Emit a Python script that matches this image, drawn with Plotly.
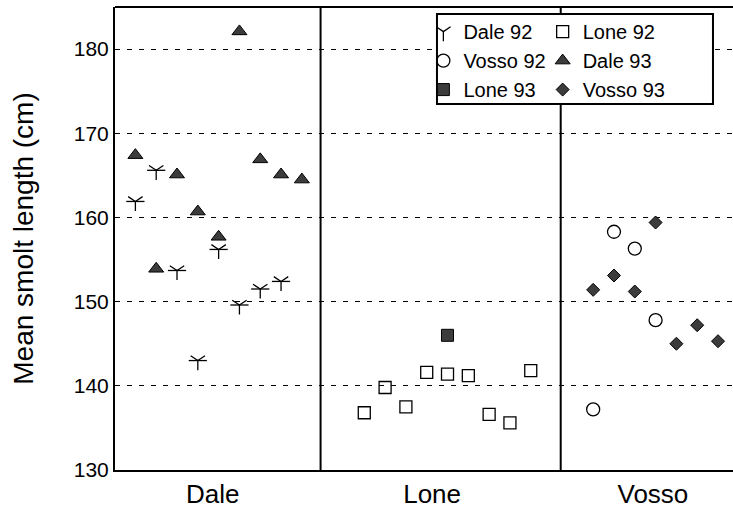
import plotly.graph_objects as go

# ---- data (x = sample index within plot, y = mean smolt length, cm) ----
dale92_x = [1, 2, 3, 4, 5, 6, 7, 8]
dale92_y = [161.9, 165.6, 153.7, 143.0, 156.2, 149.6, 151.5, 152.4]

dale93_x = [1, 2, 3, 4, 5, 6, 7, 8, 9]
dale93_y = [167.4, 153.9, 165.1, 160.7, 157.7, 182.1, 166.9, 165.1, 164.5]

lone92_x = [12, 13, 14, 15, 16, 17, 18, 19, 20]
lone92_y = [136.8, 139.8, 137.5, 141.6, 141.4, 141.2, 136.6, 135.6, 141.8]

lone93_x = [16]
lone93_y = [146.0]

vosso92_x = [23, 24, 25, 26]
vosso92_y = [137.2, 158.3, 156.3, 147.8]

vosso93_x = [23, 24, 25, 26, 27, 28, 29]
vosso93_y = [151.4, 153.1, 151.2, 159.4, 145.0, 147.2, 145.3]

category_labels = ["Dale", "Lone", "Vosso"]
y_ticks = [130, 140, 150, 160, 170, 180]

# ---- styling ----
FONT = "Liberation Sans, Arial, sans-serif"
DARK = "#3c3c3c"
OPEN_LINE = dict(color="black", width=1.3)
FILL_LINE = dict(color="black", width=1)

fig = go.Figure()

# column 1 of the legend
fig.add_trace(go.Scatter(x=dale92_x, y=dale92_y, mode="markers", name="Dale 92", legend="legend",
                         marker=dict(symbol="y-down-open", size=12, color="black", line=OPEN_LINE)))
fig.add_trace(go.Scatter(x=vosso92_x, y=vosso92_y, mode="markers", name="Vosso 92", legend="legend",
                         marker=dict(symbol="circle-open", size=13, color="black", line=OPEN_LINE)))
fig.add_trace(go.Scatter(x=lone93_x, y=lone93_y, mode="markers", name="Lone 93", legend="legend",
                         marker=dict(symbol="square", size=12, color=DARK, line=FILL_LINE)))
# column 2 of the legend
fig.add_trace(go.Scatter(x=lone92_x, y=lone92_y, mode="markers", name="Lone 92", legend="legend2",
                         marker=dict(symbol="square-open", size=12, color="black", line=OPEN_LINE)))
fig.add_trace(go.Scatter(x=dale93_x, y=dale93_y, mode="markers", name="Dale 93", legend="legend2",
                         marker=dict(symbol="triangle-up", size=13, color=DARK, line=FILL_LINE)))
fig.add_trace(go.Scatter(x=vosso93_x, y=vosso93_y, mode="markers", name="Vosso 93", legend="legend2",
                         marker=dict(symbol="diamond", size=10, color=DARK, line=FILL_LINE)))
# horizontal arms of the star marker
fig.add_trace(go.Scatter(x=dale92_x, y=dale92_y, mode="markers", name="Dale 92", showlegend=False,
                         marker=dict(symbol="line-ew-open", size=13, color="black", line=OPEN_LINE)))

# group dividers and top frame line
for xv in (9.9, 21.44):
    fig.add_shape(type="line", xref="x", yref="paper", x0=xv, x1=xv, y0=0, y1=1,
                  line=dict(color="black", width=2), layer="below")
fig.add_shape(type="line", xref="paper", yref="paper", x0=0, x1=1, y0=1, y1=1,
              line=dict(color="black", width=2))
# legend frame
fig.add_shape(type="rect", xref="paper", yref="paper", x0=0.521, x1=0.9676, y0=0.7905, y1=0.985,
              line=dict(color="black", width=2), fillcolor="white", layer="above")

legend_common = dict(orientation="v", xanchor="left", yanchor="top",
                     bgcolor="rgba(0,0,0,0)", borderwidth=0,
                     font=dict(size=20, family=FONT, color="black"))

fig.update_layout(
    width=733, height=509,
    margin=dict(l=115, r=0, t=7, b=39),
    paper_bgcolor="white", plot_bgcolor="white",
    font=dict(family=FONT, color="black"),
    showlegend=True,
    legend=dict(x=0.499, y=0.989, **legend_common),
    legend2=dict(x=0.692, y=0.989, **legend_common),
    xaxis=dict(
        range=[0.02, 29.72], showgrid=False, zeroline=False,
        showline=True, linecolor="black", linewidth=2,
        tickvals=[4.72, 15.26, 25.87], ticktext=category_labels,
        ticks="", tickfont=dict(size=26, family=FONT),
    ),
    yaxis=dict(
        range=[130, 185], tickvals=y_ticks, ticks="",
        showgrid=True, gridcolor="black", gridwidth=1, griddash="5px,7px",
        zeroline=False, showline=True, linecolor="black", linewidth=2,
        tickfont=dict(size=21, family=FONT),
        title=dict(text="Mean smolt length (cm)", font=dict(size=28, family=FONT), standoff=32),
    ),
)

fig.write_html("out.html", config={"displayModeBar": False},
               post_script="document.body.style.margin='0';")
